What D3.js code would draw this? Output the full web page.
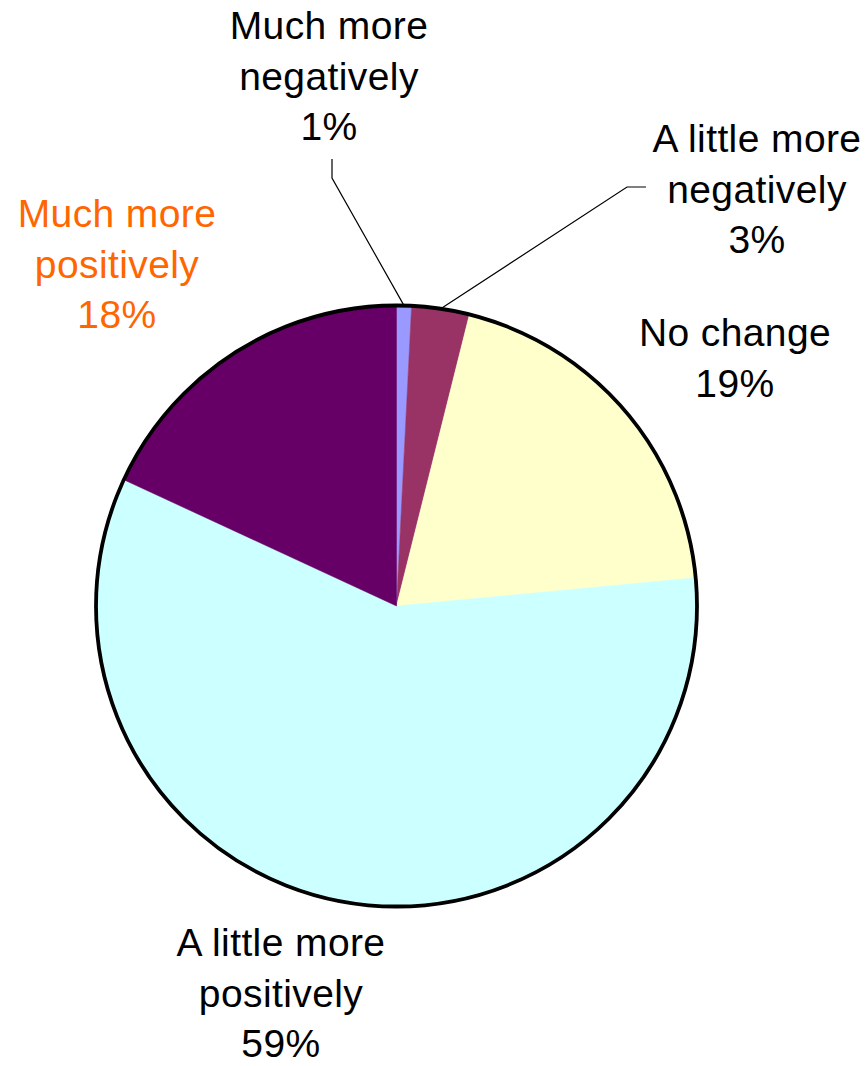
<!DOCTYPE html>
<html>
<head>
<meta charset="utf-8">
<script src="https://cdn.jsdelivr.net/npm/d3@7"></script>
<style>
	body { margin: 0; background: #fff; }
	svg text { font-family: "Liberation Sans", Arial, sans-serif; }
</style>
</head>
<body>
<div id="pie"></div>
<script>
// slices clockwise from 12 o'clock
var categories = ["Much more negatively", "A little more negatively", "No change", "A little more positively", "Much more positively"];
var shares = [0.8, 3.1, 19.6, 58.4, 18.1];
var pctLabels = ["1%", "3%", "19%", "59%", "18%"];
var labelLines = [
	["Much more", "negatively"],
	["A little more", "negatively"],
	["No change"],
	["A little more", "positively"],
	["Much more", "positively"]
];

var colors = new Map();
colors.set(0, '#9999ff');
colors.set(1, '#993366');
colors.set(2, '#ffffcc');
colors.set(3, '#ccffff');
colors.set(4, '#660066');

/////////////////////////////////////////////////////////////////////////////

function drawPie() {
	var svgWidth = 868,
		svgHeight = 1066,
		cx = 396.5,
		cy = 606,
		radius = 300.5,
		fontSize = 39,
		lineGap = 50.5;

	// where each label block sits (centre x, first baseline y)
	var labelPos = [
		{x: 329, y: 39, fill: "#000"},
		{x: 757, y: 152, fill: "#000"},
		{x: 735, y: 346, fill: "#000"},
		{x: 281, y: 956, fill: "#000"},
		{x: 117, y: 227, fill: "#ff6600"}
	];

	var svg = d3.select("#pie").append("svg")
		.attr("width", svgWidth)
		.attr("height", svgHeight);

	var pie = d3.pie().sort(null).value(function(d) { return d; });
	var arcs = pie(shares);

	var arc = d3.arc().innerRadius(0).outerRadius(radius);

	var g = svg.append("g")
		.attr("transform", "translate(" + cx + "," + cy + ")");

	g.selectAll("path.slice")
		.data(arcs)
		.enter().append("path")
		.attr("class", "slice")
		.attr("d", arc)
		.attr("fill", function(d, i) { return colors.get(i); })
		.attr("stroke", function(d, i) { return colors.get(i); })
		.attr("stroke-width", 0.5);

	g.append("circle")
		.attr("r", radius)
		.attr("fill", "none")
		.attr("stroke", "#000")
		.attr("stroke-width", 3.8);

	// leader lines for the two thin slices: from the label out to the arc
	var leaders = [
		{i: 0, pts: [[332, 159], [332, 178]]},
		{i: 1, pts: [[646, 187], [627, 187]]}
	];
	leaders.forEach(function(l) {
		var a = arcs[l.i];
		var mid = (a.startAngle + a.endAngle) / 2;
		var px = cx + Math.sin(mid) * radius,
			py = cy - Math.cos(mid) * radius;
		svg.append("path")
			.attr("d", d3.line()(l.pts.concat([[px, py]])))
			.attr("fill", "none")
			.attr("stroke", "#000")
			.attr("stroke-width", 1.2);
	});

	var labels = svg.selectAll("text.lbl")
		.data(categories)
		.enter().append("text")
		.attr("class", "lbl")
		.attr("text-anchor", "middle")
		.attr("font-size", fontSize)
		.attr("letter-spacing", 0.4)
		.attr("fill", function(d, i) { return labelPos[i].fill; });

	labels.each(function(d, i) {
		var t = d3.select(this);
		var lines = labelLines[i].concat([pctLabels[i]]);
		lines.forEach(function(s, j) {
			t.append("tspan")
				.attr("x", labelPos[i].x)
				.attr("y", labelPos[i].y + j * lineGap)
				.text(s);
		});
	});
}

drawPie();
</script>
</body>
</html>
